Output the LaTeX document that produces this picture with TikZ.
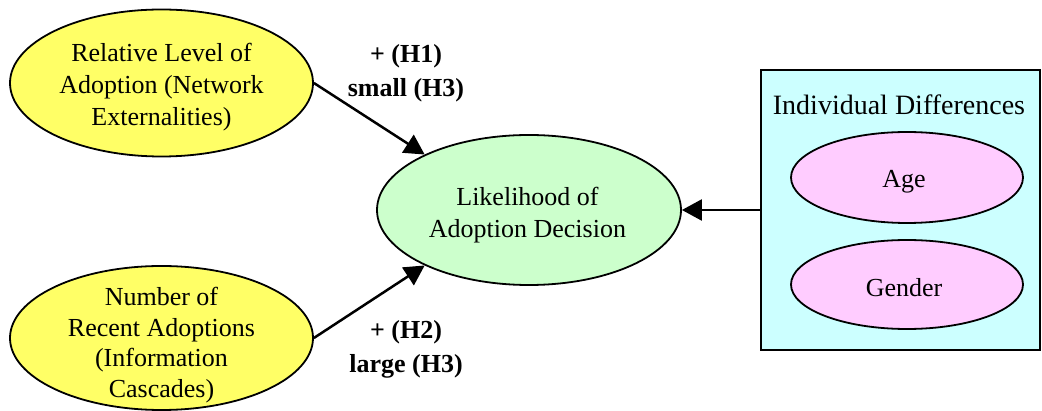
\documentclass[tikz,border=0pt]{standalone}
\usepackage{fontspec}
\setmainfont{Liberation Serif}
\usetikzlibrary{shapes.geometric,arrows.meta}
\definecolor{yel}{RGB}{255,255,102}
\definecolor{grn}{RGB}{204,255,204}
\definecolor{cyn}{RGB}{204,255,255}
\definecolor{pnk}{RGB}{255,204,255}
\tikzset{
  ell/.style={ellipse, draw=black, line width=1.8pt, inner sep=0pt},
  txt/.style={align=center, inner sep=0pt, font=\fontsize{26}{32}\selectfont},
  lbl/.style={align=center, font=\fontsize{26}{34}\selectfont\bfseries, inner sep=0pt},
  arr/.style={line width=2.5pt, -{Triangle[length=20pt,width=21pt]}},
}
\begin{document}
\begin{tikzpicture}[x=1pt,y=-1pt]
\useasboundingbox (0,0) rectangle (1042,411);
\node[ell, fill=yel, minimum width=303, minimum height=147] (rel) at (161.5,83) {};
\node[txt] (relt) at (161.5,87) {Relative Level of\\Adoption (Network\\Externalities)};
\node[ell, fill=yel, minimum width=303, minimum height=144] (num) at (161.5,338) {};
\node[txt, font=\fontsize{26}{30.5}\selectfont] (numt) at (161.5,345) {Number of\\Recent Adoptions\\(Information\\Cascades)};
\node[ell, fill=grn, minimum width=304, minimum height=150] (lik) at (529,210) {};
\node[txt] (likt) at (527.5,215.5) {Likelihood of\\Adoption Decision};
\node[draw=black, fill=cyn, line width=1.8pt, minimum width=279, minimum height=280, inner sep=0pt] (box) at (900.5,210) {};
\node[txt, font=\fontsize{28}{32}\selectfont] (ind) at (899,105) {Individual Differences};
\node[ell, fill=pnk, minimum width=232, minimum height=91] (age) at (907,177.5) {};
\node[txt] (aget) at (904,182) {Age};
\node[ell, fill=pnk, minimum width=232, minimum height=89] (gen) at (907,284.5) {};
\node[txt] (gent) at (904,288) {Gender};
\node[lbl] (l1) at (406,73) {+ (H1)\\small (H3)};
\node[lbl] (l2) at (406,349) {+ (H2)\\large (H3)};
\draw[arr] (rel.east) -- (lik.152);
\draw[arr] (num.east) -- (lik.208);
\draw[arr] (box.west) -- (lik.east);
\end{tikzpicture}
\end{document}
